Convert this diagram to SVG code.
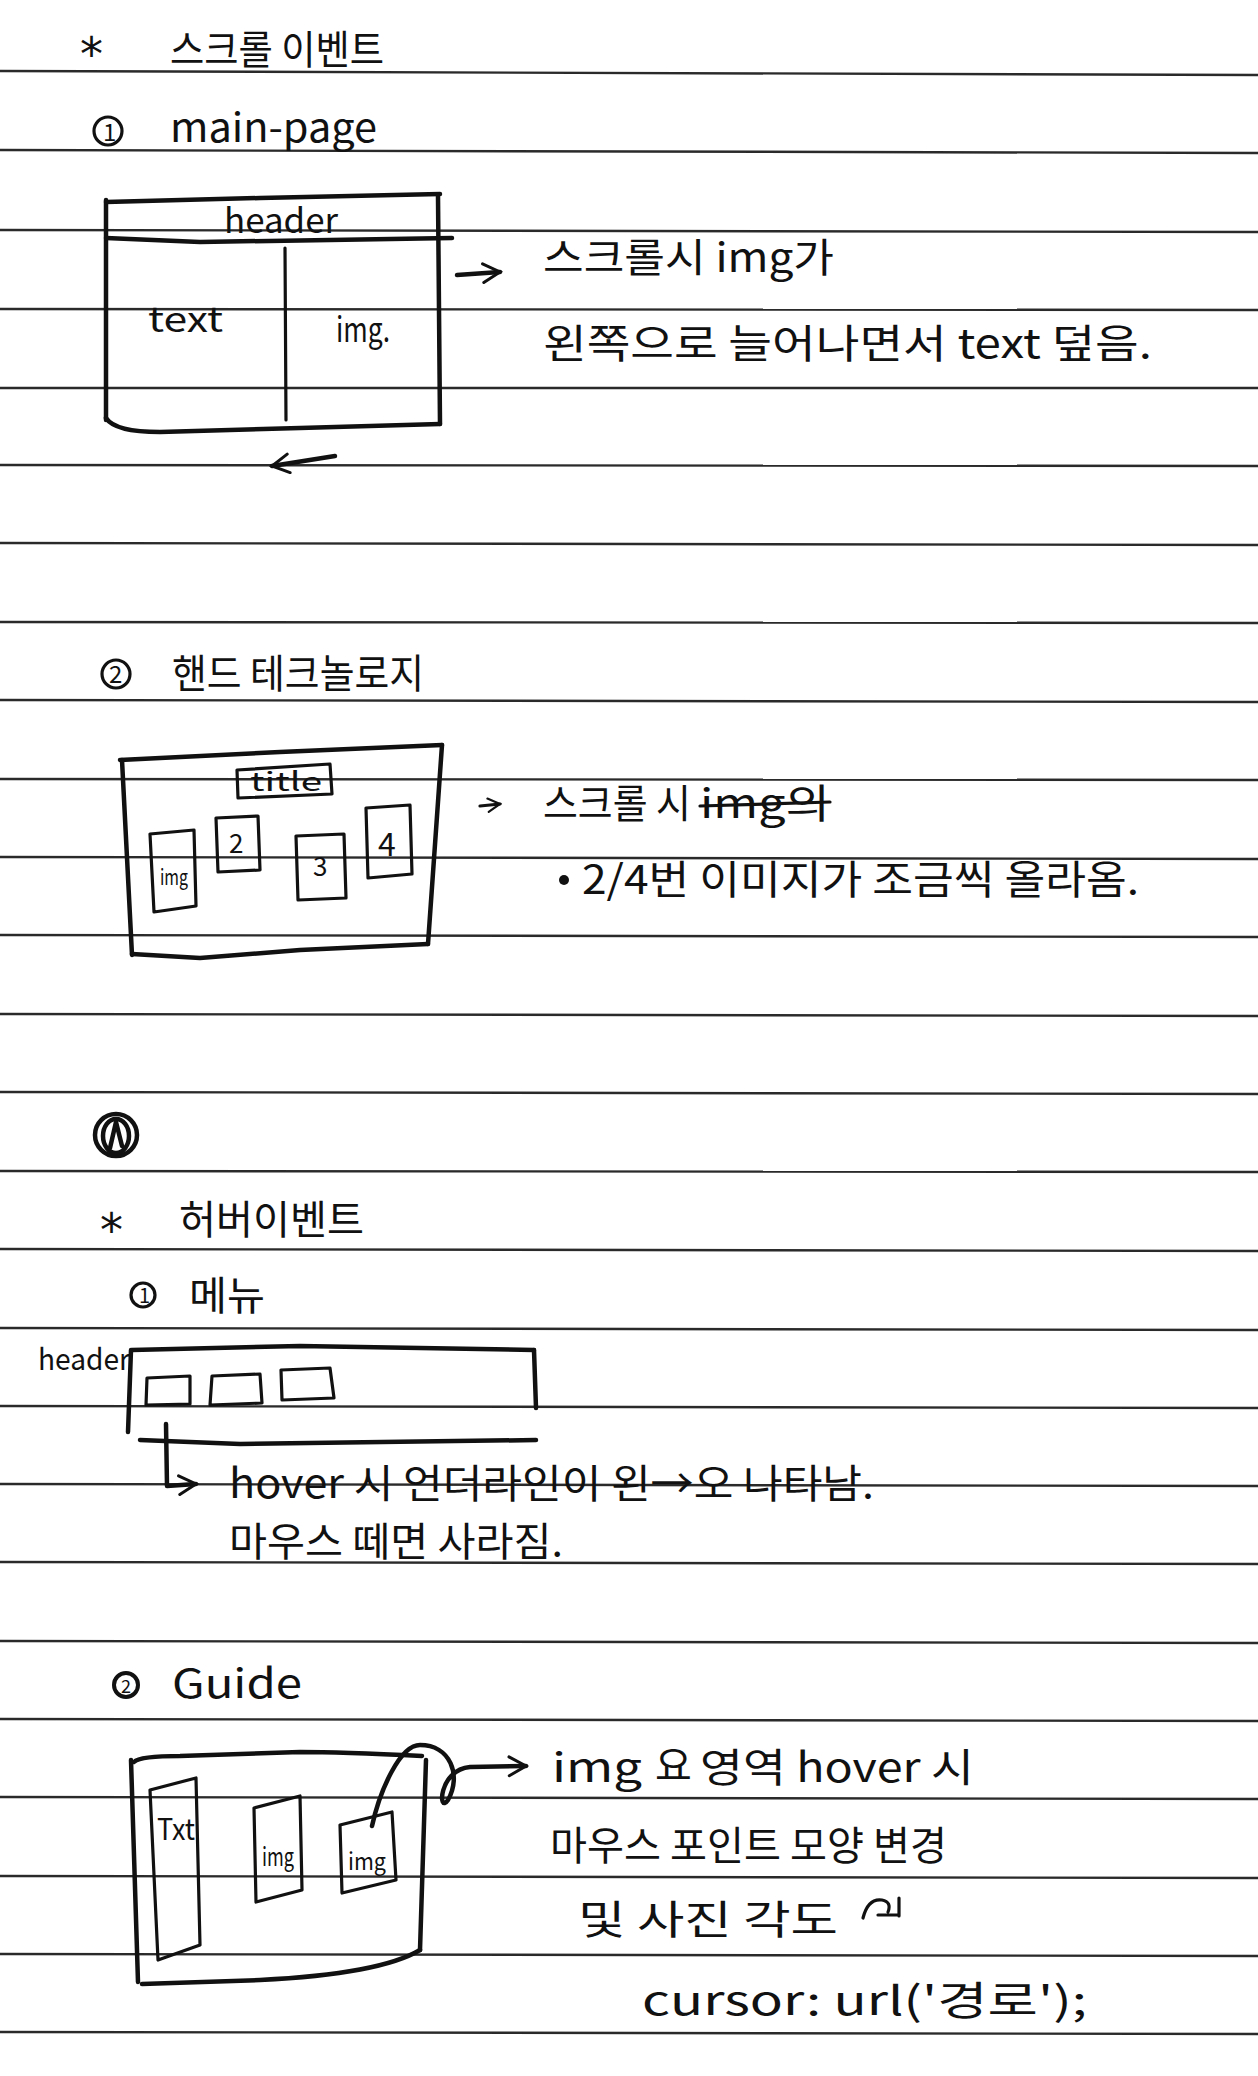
<svg xmlns="http://www.w3.org/2000/svg" width="1258" height="2076" viewBox="0 0 1258 2076">
<style>
.rule{stroke:#2a2a2a;stroke-width:2.4;fill:none}
.ink{stroke:#111;stroke-width:4.5;fill:none;stroke-linecap:round;stroke-linejoin:round}
.thin{stroke:#111;stroke-width:3.2;fill:none;stroke-linecap:round;stroke-linejoin:round}
.t{font-family:"Noto Sans CJK KR","Noto Sans",sans-serif;fill:#111;font-weight:400}
.h{font-size:40px}
.m{font-size:34px}
.s{font-size:26px}
.star{font-family:"DejaVu Sans",sans-serif;font-size:46px;fill:#111}
</style>
<defs>
<marker id="ah" viewBox="0 0 12 12" refX="10" refY="6" markerWidth="5" markerHeight="5" orient="auto" markerUnits="strokeWidth">
<path d="M1,1 L10,6 L1,11" fill="none" stroke="#111" stroke-width="1.6" stroke-linecap="round"/>
</marker>
</defs>
<rect width="1258" height="2076" fill="#ffffff"/>
<g id="rules">
<line class="rule" x1="0" y1="71" x2="1258" y2="75"/>
<line class="rule" x1="0" y1="150" x2="1258" y2="153"/>
<line class="rule" x1="0" y1="230" x2="1258" y2="232"/>
<line class="rule" x1="0" y1="309" x2="1258" y2="310"/>
<line class="rule" x1="0" y1="388" x2="1258" y2="388"/>
<line class="rule" x1="0" y1="465" x2="1258" y2="466"/>
<line class="rule" x1="0" y1="543" x2="1258" y2="545"/>
<line class="rule" x1="0" y1="622" x2="1258" y2="623"/>
<line class="rule" x1="0" y1="700" x2="1258" y2="702"/>
<line class="rule" x1="0" y1="779" x2="1258" y2="780"/>
<line class="rule" x1="0" y1="857" x2="1258" y2="859"/>
<line class="rule" x1="0" y1="935" x2="1258" y2="937"/>
<line class="rule" x1="0" y1="1014" x2="1258" y2="1016"/>
<line class="rule" x1="0" y1="1092" x2="1258" y2="1094"/>
<line class="rule" x1="0" y1="1171" x2="1258" y2="1172"/>
<line class="rule" x1="0" y1="1249" x2="1258" y2="1251"/>
<line class="rule" x1="0" y1="1328" x2="1258" y2="1330"/>
<line class="rule" x1="0" y1="1406" x2="1258" y2="1408"/>
<line class="rule" x1="0" y1="1484" x2="1258" y2="1486"/>
<line class="rule" x1="0" y1="1562" x2="1258" y2="1564"/>
<line class="rule" x1="0" y1="1641" x2="1258" y2="1643"/>
<line class="rule" x1="0" y1="1719" x2="1258" y2="1721"/>
<line class="rule" x1="0" y1="1797" x2="1258" y2="1799"/>
<line class="rule" x1="0" y1="1876" x2="1258" y2="1878"/>
<line class="rule" x1="0" y1="1954" x2="1258" y2="1956"/>
<line class="rule" x1="0" y1="2032" x2="1258" y2="2034"/>
</g>

<g id="sec1-title">
<text class="star" x="80" y="70">*</text>
<text class="t h" x="170" y="64" textLength="214" lengthAdjust="spacingAndGlyphs">스크롤 이벤트</text>
<circle class="thin" cx="108" cy="131" r="14"/>
<text class="t" x="103" y="141" font-size="24">1</text>
<text class="t h" x="170" y="142" font-size="44" textLength="207" lengthAdjust="spacingAndGlyphs">main-page</text>
</g>

<g id="main-page-box">
<path class="ink" d="M106,202 L260,198 L440,194"/>
<path class="ink" d="M106,200 L106,420"/>
<path class="ink" d="M438,196 L440,424"/>
<path class="ink" d="M106,418 Q115,432 160,432 L300,428 L440,424"/>
<path class="ink" d="M106,238 L200,242 L452,238"/>
<path class="thin" d="M285,248 L286,420"/>
<text class="t m" x="224" y="233" textLength="114" lengthAdjust="spacingAndGlyphs">header</text>
<text class="t m" x="148" y="332" textLength="75" lengthAdjust="spacingAndGlyphs">text</text>
<text class="t m" x="336" y="342" textLength="54" lengthAdjust="spacingAndGlyphs">img.</text>
</g>

<g id="main-page-note">
<text class="t h" x="543" y="272" textLength="291" lengthAdjust="spacingAndGlyphs">스크롤시 img가</text>
<text class="t h" x="543" y="358" textLength="609" lengthAdjust="spacingAndGlyphs">왼쪽으로 늘어나면서 text 덮음.</text>
</g>

<g id="sec2-title">
<circle class="thin" cx="116" cy="674" r="14"/>
<text class="t" x="109" y="683" font-size="24">2</text>
<text class="t h" x="172" y="688" font-size="42" textLength="252" lengthAdjust="spacingAndGlyphs">핸드 테크놀로지</text>
</g>

<g id="hand-tech-box">
<path class="ink" d="M120,760 L280,752 L442,745"/>
<path class="ink" d="M122,760 L132,955"/>
<path class="ink" d="M442,745 L428,944"/>
<path class="ink" d="M132,954 L200,958 L300,950 L428,944"/>
<path class="thin" d="M237,770 L330,764 L332,794 L238,798 Z"/>
<text class="t s" x="250" y="791" textLength="72" lengthAdjust="spacingAndGlyphs">title</text>
<path class="thin" d="M150,834 L194,830 L196,906 L154,912 Z"/>
<text class="t" x="160" y="885" font-size="22" textLength="28" lengthAdjust="spacingAndGlyphs">img</text>
<path class="thin" d="M216,818 L258,816 L260,870 L218,872 Z"/>
<text class="t s" x="229" y="853">2</text>
<path class="thin" d="M296,836 L344,834 L346,898 L298,900 Z"/>
<text class="t s" x="313" y="876">3</text>
<path class="thin" d="M366,808 L410,805 L412,874 L368,878 Z"/>
<text class="t" x="378" y="856" font-size="32">4</text>
</g>

<g id="hand-tech-note">
<text class="t h" x="543" y="818" textLength="148" lengthAdjust="spacingAndGlyphs">스크롤 시</text>
<text class="t h" x="700" y="818" textLength="130" lengthAdjust="spacingAndGlyphs">img의</text>
<path class="thin" d="M700,806 L830,802"/>
<circle cx="564" cy="880" r="5" fill="#111"/>
<text class="t h" x="582" y="894" textLength="557" lengthAdjust="spacingAndGlyphs">2/4번 이미지가 조금씩 올라옴.</text>
</g>

<g id="sec3-mark">
<circle class="ink" cx="116" cy="1135" r="21"/>
<ellipse class="ink" cx="116" cy="1136" rx="13" ry="17"/>
<path class="ink" d="M110,1148 L116,1122 L122,1146"/>
</g>

<g id="sec3-title">
<text class="star" x="100" y="1246">*</text>
<text class="t h" x="179" y="1234" font-size="42" textLength="185" lengthAdjust="spacingAndGlyphs">허버이벤트</text>
<circle class="thin" cx="143" cy="1295" r="12"/>
<text class="t" x="139" y="1303" font-size="20">1</text>
<text class="t h" x="189" y="1310" font-size="38" textLength="76" lengthAdjust="spacingAndGlyphs">메뉴</text>
</g>

<g id="menu-header">
<text class="t" x="38" y="1370" font-size="30" textLength="92" lengthAdjust="spacingAndGlyphs">header</text>
<path class="ink" d="M132,1350 L300,1346 L534,1350"/>
<path class="ink" d="M534,1350 L536,1408"/>
<path class="ink" d="M131,1350 L128,1432"/>
<path class="ink" d="M140,1440 L240,1444 L536,1440"/>
<path class="thin" d="M146,1405 L147,1378 L190,1376 L190,1404 Z"/>
<path class="thin" d="M210,1405 L212,1376 L260,1374 L262,1403 Z"/>
<path class="thin" d="M282,1400 L281,1370 L330,1368 L334,1398 Z"/>
</g>

<g id="connectors">
<path class="ink" d="M166,1424 L167,1486 L196,1484" marker-end="url(#ah)"/>
<path class="ink" d="M457,275 L500,272" marker-end="url(#ah)"/>
<path class="ink" d="M335,456 L272,466" marker-end="url(#ah)"/>
<path class="thin" d="M480,806 L500,804" marker-end="url(#ah)"/>
<path class="ink" d="M372,1826 C380,1790 400,1745 420,1745 C450,1745 462,1775 448,1800 C438,1815 438,1770 470,1767 L526,1766" marker-end="url(#ah)"/>
</g>

<g id="menu-note">
<text class="t h" x="229" y="1498" textLength="645" lengthAdjust="spacingAndGlyphs">hover 시 언더라인이 왼→오 나타남.</text>
<text class="t h" x="229" y="1556" textLength="334" lengthAdjust="spacingAndGlyphs">마우스 떼면 사라짐.</text>
</g>

<g id="sec4-title">
<circle cx="126" cy="1685" r="12" fill="none" stroke="#111" stroke-width="4"/>
<text class="t" x="121" y="1693" font-size="18" font-weight="700">2</text>
<text class="t h" x="172" y="1698" textLength="130" lengthAdjust="spacingAndGlyphs">Guide</text>
</g>

<g id="guide-box">
<path class="ink" d="M134,1762 Q140,1756 180,1756 L300,1752 Q340,1752 422,1756"/>
<path class="ink" d="M131,1760 L138,1982"/>
<path class="ink" d="M426,1760 L420,1950"/>
<path class="ink" d="M142,1984 L260,1980 Q380,1974 420,1950"/>
<path class="thin" d="M150,1790 L196,1778 L200,1945 L158,1960 Z"/>
<text class="t" x="157" y="1840" font-size="30" textLength="38" lengthAdjust="spacingAndGlyphs">Txt</text>
<path class="thin" d="M254,1808 L300,1796 L302,1890 L256,1902 Z"/>
<text class="t" x="262" y="1866" font-size="26" textLength="32" lengthAdjust="spacingAndGlyphs">img</text>
<path class="thin" d="M340,1825 L392,1812 L396,1880 L342,1893 Z"/>
<text class="t" x="348" y="1870" font-size="24" textLength="38" lengthAdjust="spacingAndGlyphs">img</text>
</g>

<g id="guide-note">
<text class="t h" x="552" y="1782" textLength="90" lengthAdjust="spacingAndGlyphs">img</text>
<text class="t h" x="655" y="1780" font-weight="700">요</text>
<text class="t h" x="700" y="1782" textLength="274" lengthAdjust="spacingAndGlyphs">영역 hover 시</text>
<text class="t h" x="550" y="1860" textLength="397" lengthAdjust="spacingAndGlyphs">마우스 포인트 모양 변경</text>
<text class="t h" x="578" y="1934" textLength="260" lengthAdjust="spacingAndGlyphs">및 사진 각도</text>
<path class="thin" d="M863,1918 Q868,1898 882,1900 Q892,1902 888,1912 M878,1915 L898,1915 M899,1898 L899,1916"/>
<text class="t h" x="642" y="2015" textLength="445" lengthAdjust="spacingAndGlyphs">cursor: url('경로');</text>
</g>
</svg>
